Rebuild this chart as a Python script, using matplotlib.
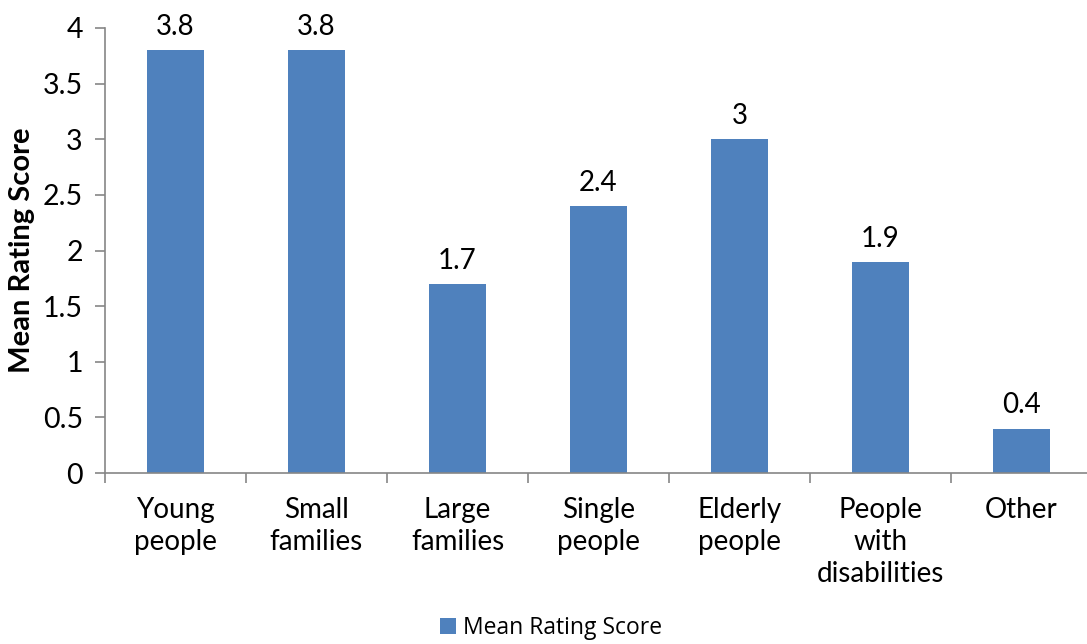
import matplotlib
matplotlib.use("Agg")
import matplotlib.pyplot as plt
from matplotlib.patches import Patch

categories = ["Young\npeople", "Small\nfamilies", "Large\nfamilies", "Single\npeople",
              "Elderly\npeople", "People\nwith\ndisabilities", "Other"]
scores = [3.8, 3.8, 1.7, 2.4, 3.0, 1.9, 0.4]
value_labels = ["3.8", "3.8", "1.7", "2.4", "3", "1.9", "0.4"]
yticks = [0, 0.5, 1, 1.5, 2, 2.5, 3, 3.5, 4]
ytick_labels = ["0", "0.5", "1", "1.5", "2", "2.5", "3", "3.5", "4"]
series_name = "Mean Rating Score"

bar_color = "#4F81BD"
axis_color = "#868686"
font = "Lato"

fig = plt.figure(figsize=(10.87, 6.44), dpi=100)
# axes span from the left spine to past the right edge of the canvas
ax = fig.add_axes([105 / 1087, (644 - 473) / 644, 987 / 1087, 445 / 644])

x = list(range(len(categories)))
ax.bar(x, scores, width=0.40, color=bar_color, zorder=2)
for xi, v, lab in zip(x, scores, value_labels):
    ax.text(xi, v + 0.09, lab, ha="center", va="bottom", fontsize=20,
            family=font, color="#000000")

ax.set_xlim(-0.5, len(categories) - 0.5)
ax.set_ylim(0, 4)
ax.set_yticks(yticks)
ax.set_yticklabels(ytick_labels, family=font, fontsize=20.5)
ax.set_xticks(x)
ax.set_xticklabels(categories, family=font, fontsize=20, linespacing=1.3)
ax.tick_params(axis="x", length=0, pad=17)
ax.tick_params(axis="y", length=7, color=axis_color, width=1.2, direction="out", pad=9)
# category boundary ticks
ax.set_xticks([i - 0.5 for i in range(len(categories) + 1)], minor=True)
ax.tick_params(axis="x", which="minor", length=7, color=axis_color, width=1.2)

for s in ["top", "right"]:
    ax.spines[s].set_visible(False)
for s in ["left", "bottom"]:
    ax.spines[s].set_color(axis_color)
    ax.spines[s].set_linewidth(1.2)

fig.text(22 / 1087, (644 - 250) / 644, series_name, rotation=90, ha="center",
         va="center", fontsize=21, fontweight="bold", family=font)

handle = Patch(facecolor=bar_color, edgecolor="none")
fig.legend([handle], [series_name], loc="center", bbox_to_anchor=(551 / 1087, 16 / 644),
           frameon=False, prop={"family": "Open Sans", "size": 16.5},
           handlelength=0.7, handleheight=0.7, handletextpad=0.3)

fig.savefig("out.png", dpi=100)
